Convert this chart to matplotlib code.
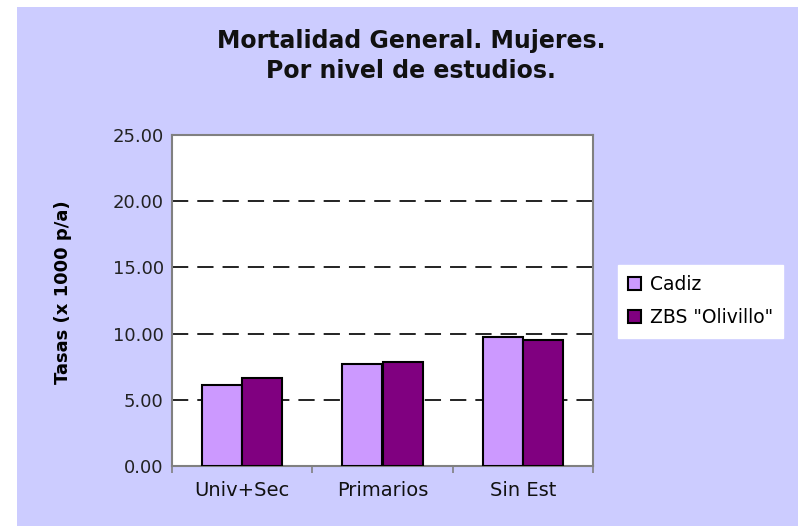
import matplotlib
matplotlib.use("Agg")
import matplotlib.pyplot as plt
from matplotlib.patches import Rectangle
import numpy as np

plt.rcParams['font.family'] = ['DejaVu Sans']

categories = ["Univ+Sec", "Primarios", "Sin Est"]
cadiz = [6.15, 7.74, 9.75]
olivillo = [6.65, 7.87, 9.48]
series_names = ["Cadiz", 'ZBS "Olivillo"']
yticks = [0, 5, 10, 15, 20, 25]

fig = plt.figure(figsize=(7.98, 5.26), dpi=100)
fig.patch.set_facecolor("white")
fig.patches.append(Rectangle((17/798, 0), 1 - 17/798, 1 - 7/526,
                             transform=fig.transFigure, facecolor="#CCCCFF",
                             edgecolor="none", zorder=-10))

ax = fig.add_axes([172/798, 60/526, 421/798, 331/526])
ax.set_zorder(2)
ax.set_facecolor("white")

x = np.arange(len(categories))
w = 0.286
ax.bar(x - w/2, cadiz, w, color="#CC99FF", edgecolor="black", linewidth=1.5,
       label=series_names[0], zorder=3)
ax.bar(x + w/2, olivillo, w, color="#800080", edgecolor="black", linewidth=1.5,
       label=series_names[1], zorder=3)

ax.set_xlim(-0.5, 2.5)
ax.set_ylim(0, 25)
ax.set_yticks(yticks)
ax.set_yticklabels([f"{v:.2f}" for v in yticks], fontsize=13, color="#222222")

ax.set_xticks([-0.5, 0.5, 1.5, 2.5])
ax.set_xticklabels([])
ax.set_xticks(x, minor=True)
ax.set_xticklabels(categories, minor=True, fontsize=14, color="#111111")
ax.tick_params(axis='x', which='minor', length=0, pad=11)
ax.tick_params(axis='x', which='major', length=5, width=1.2, color="#808080")
ax.tick_params(axis='y', length=0, pad=6)

for yv in yticks[1:-1]:
    ax.axhline(yv, color="#111111", linestyle=(0, (9, 5)), linewidth=1.3, zorder=1)

for s in ax.spines.values():
    s.set_color("#808080")
    s.set_linewidth(1.5)

ax.set_ylabel("Tasas (x 1000 p/a)", fontsize=13, fontweight="bold")
ax.yaxis.set_label_coords(-0.2375, 0.526)

fig.text(411/798, 1 - 56/526, "Mortalidad General. Mujeres.\nPor nivel de estudios.",
         ha="center", va="center", fontsize=17, fontweight="bold",
         linespacing=1.35, color="#111111")

leg = ax.legend(loc="upper left", bbox_to_anchor=(618/798, 1 - 265/526),
                bbox_transform=fig.transFigure, frameon=True, fancybox=False,
                framealpha=1, fontsize=13.5, handlelength=0.7, handleheight=0.7,
                handletextpad=0.45, borderpad=0.55, labelspacing=0.75,
                borderaxespad=0)
leg.get_frame().set_facecolor("white")
leg.get_frame().set_edgecolor("white")
for h in leg.legend_handles:
    h.set_linewidth(1.5)

fig.savefig("out.png", dpi=100, facecolor=fig.get_facecolor())
